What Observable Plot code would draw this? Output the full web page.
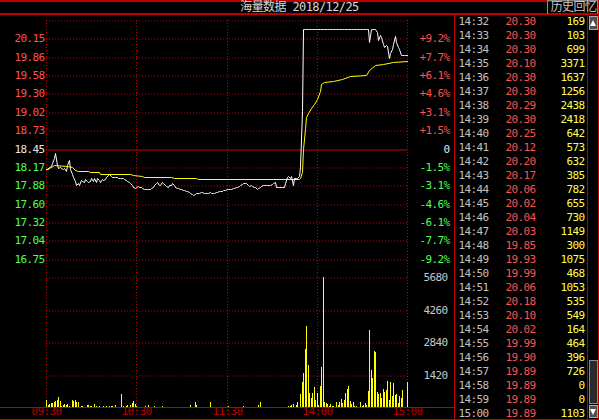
<!DOCTYPE html>
<html><head><meta charset="utf-8">
<script src="https://cdn.jsdelivr.net/npm/d3@7"></script>
<script src="https://cdn.jsdelivr.net/npm/@observablehq/plot@0.6"></script>
<style>
html,body{margin:0;padding:0;background:#000;}
#wrap{position:relative;width:599px;height:420px;background:#000;overflow:hidden;}
#wrap svg{position:absolute;}
.deco{position:absolute;box-sizing:border-box;}
</style></head><body><div id="wrap"></div>
<script>
// ---------- data ----------
const prevClose = 18.45;
const priceTicks = [20.15,19.86,19.58,19.30,19.02,18.73,18.45,18.17,17.88,17.60,17.32,17.04,16.75];
const pctLabels = ["+9.2%","+7.7%","+6.1%","+4.6%","+3.1%","+1.5%","0","-1.5%","-3.1%","-4.6%","-6.1%","-7.7%","-9.2%"];
const volTicks = [5680,4260,2840,1420];
const timeTicks = [0,60,120,180,240];
const timeLabels = ["09:30","10:30","11:30","14:00","15:00"];
const title = "海量数据 2018/12/25";
const panelTitle = "历史回忆";

// minute-by-minute price (241 minutes: 09:30-11:30, 13:01-15:00)
const price = [
18.13,18.14,18.17,18.18,18.22,18.30,18.38,18.20,18.15,18.17,
18.15,18.13,18.15,18.11,18.19,18.27,18.13,18.05,18.01,17.95,
17.88,17.91,17.89,17.96,17.95,17.93,17.98,17.95,17.93,17.95,
17.99,17.95,18.00,17.93,17.99,17.96,17.93,17.98,17.96,17.98,
18.01,18.04,18.06,18.03,18.01,18.01,18.01,18.01,18.00,18.00,
17.99,17.99,17.98,17.96,17.95,17.93,17.91,17.89,17.86,17.84,
17.85,17.87,17.86,17.86,17.84,17.82,17.82,17.82,17.82,17.82,
17.84,17.86,17.88,17.91,17.93,17.89,17.88,17.93,17.91,17.88,
17.87,17.86,17.88,17.89,17.91,17.88,17.86,17.84,17.84,17.83,
17.82,17.81,17.81,17.80,17.79,17.78,17.77,17.75,17.74,17.75,
17.76,17.76,17.77,17.78,17.78,17.77,17.76,17.76,17.77,17.78,
17.77,17.76,17.76,17.78,17.78,17.79,17.79,17.80,17.81,17.81,
17.82,17.83,17.83,17.83,17.84,17.84,17.85,17.86,17.87,17.88,
17.90,17.92,17.92,17.92,17.89,17.87,17.88,17.87,17.86,17.85,
17.83,17.84,17.86,17.87,17.88,17.88,17.89,17.89,17.89,17.89,
17.90,17.92,17.93,17.86,17.86,17.86,17.86,17.86,17.86,17.91,
18.01,18.02,18.00,18.02,17.89,17.99,17.99,17.99,18.02,18.16,
19.03,20.30,20.30,20.30,20.30,20.30,20.30,20.30,20.30,20.30,
20.30,20.30,20.30,20.30,20.30,20.30,20.30,20.30,20.30,20.30,
20.30,20.30,20.30,20.30,20.30,20.30,20.30,20.30,20.30,20.30,
20.30,20.30,20.30,20.30,20.30,20.30,20.30,20.30,20.30,20.30,
20.30,20.30,20.30,20.30,20.30,20.10,20.30,20.30,20.29,20.30,
20.25,20.12,20.20,20.17,20.06,20.02,20.04,20.03,19.85,19.93,
19.99,20.06,20.18,20.10,20.02,19.99,19.90,19.89,19.89,19.89,
19.89
];

// average price line (minute, value)
const avgMinute = [0,3,5,14,17,19,21,28,29,35,36,56,58,64,65,83,85,100,101,168,169,170,171,172,173,174,176,178,180,182,183,185,191,197,202,213,215,219,224,231,240];
const avgPrice  = [18.13,18.16,18.19,18.18,18.16,18.12,18.10,18.10,18.09,18.09,18.06,18.06,18.04,18.03,18.01,18.01,18.00,18.00,17.98,17.98,17.99,18.08,18.45,18.75,18.93,19.00,19.08,19.13,19.21,19.33,19.45,19.47,19.49,19.52,19.57,19.59,19.66,19.74,19.76,19.78,19.80];

// minute volume
const volume = [
300,70,130,160,160,200,260,290,430,270,
60,100,120,100,120,60,0,310,260,320,
230,230,0,60,60,0,0,100,90,60,
60,0,140,60,0,60,0,0,60,0,
60,0,60,60,60,0,100,0,0,0,
570,60,0,60,100,0,100,160,280,140,
60,0,0,0,0,0,60,0,80,0,
0,0,60,0,0,0,0,60,0,0,
0,0,0,0,0,0,0,0,0,0,
0,0,0,0,0,0,70,0,0,200,
100,0,0,0,0,0,0,0,0,200,
0,0,0,0,0,0,0,0,0,0,
0,60,0,0,0,0,0,0,0,0,
0,60,0,0,0,0,0,0,0,0,
0,100,200,0,0,0,0,0,0,0,
0,0,0,0,0,0,0,0,0,0,
0,60,60,100,150,0,100,200,0,570,
1100,1470,2530,3550,1830,600,380,600,890,300,
600,100,920,1735,5680,200,160,120,50,140,
30,30,0,240,100,210,340,190,300,600,
770,920,260,150,200,30,30,0,0,240,
50,100,169,103,699,3371,1637,1256,2438,2418,
642,573,632,385,782,655,730,1149,300,1075,
468,1053,535,549,164,464,396,726,0,0,
1103
];

// trade list shown on the right (14:32 - 15:00)
const tblTime = ["14:32","14:33","14:34","14:35","14:36","14:37","14:38","14:39","14:40","14:41","14:42","14:43","14:44","14:45","14:46","14:47","14:48","14:49","14:50","14:51","14:52","14:53","14:54","14:55","14:56","14:57","14:58","14:59","15:00"];
const tblStart = 212;

// ---------- drawing ----------
const wrap = document.getElementById("wrap");
const mono = "'DejaVu Sans Mono','Noto Sans CJK SC',monospace";
const baseStyle = {background:"transparent", fontFamily:mono, fontSize:"11px", letterSpacing:"-0.6px", overflow:"visible"};
const grid = {stroke:"#c00000", strokeDasharray:"1,2"};
const gridH = {stroke:"#c00000", strokeDasharray:"1,2", dy:0.5};
const RED = "#ff5050", GREEN = "#50ff50", WHITE = "#e8e8e8";
const step = 1.7/6;
const hi = prevClose + 7*step, lo = prevClose - 7*step;
const idx = d3.range(price.length);
const lvl = (d,i) => prevClose + (6-i)*step;

const pricePlot = Plot.plot({
  width:452, height:278, marginTop:20, marginBottom:1, marginLeft:46, marginRight:45,
  x:{domain:[0,240], axis:null, round:true},
  y:{domain:[lo,hi], axis:null, round:true},
  color:{type:"identity"},
  style: baseStyle,
  marks:[
    Plot.ruleY([hi, ...priceTicks.map(lvl).filter((d,i)=>i!==6)], gridH),
    Plot.ruleX([0,60,120,180,240], grid),
    Plot.ruleY([prevClose], {stroke:"#c80000", dy:0.5}),
    Plot.line(avgMinute, {x:d=>d, y:(d,i)=>avgPrice[i], stroke:"#ffff00", strokeWidth:1}),
    Plot.line(idx, {x:i=>i, y:i=>price[i], stroke:"#ffffff", strokeWidth:1}),
    Plot.text(priceTicks, {y:lvl, text:d=>d.toFixed(2), frameAnchor:"left", textAnchor:"end", dx:-2,
      fill:(d,i)=> i<6 ? RED : i>6 ? GREEN : WHITE}),
    Plot.text(pctLabels, {y:lvl, text:d=>d, frameAnchor:"right", textAnchor:"end", dx:42,
      fill:(d,i)=> i<6 ? RED : i>6 ? GREEN : WHITE})
  ]
});
pricePlot.style.left = "0px"; pricePlot.style.top = "0px";
wrap.appendChild(pricePlot);

const volPlot = Plot.plot({
  width:452, height:153, marginTop:10, marginBottom:13, marginLeft:46, marginRight:45,
  x:{domain:[0,240], axis:null, round:true},
  y:{domain:[0,5680], axis:null, round:true},
  style: baseStyle,
  marks:[
    Plot.ruleY(volTicks, gridH),
    Plot.ruleX([0,60,120,180,240], grid),
    Plot.ruleX(idx, {x:i=>i, y1:()=>0, y2:i=>volume[i], stroke:"#ffff00", strokeWidth:1.4, shapeRendering:"crispEdges"}),
    Plot.text(volTicks, {y:d=>d, text:d=>String(d), frameAnchor:"right", textAnchor:"end", dx:40, fill:"#c8c8c8"}),
    Plot.text(timeTicks, {x:d=>d, text:(d,i)=>timeLabels[i], frameAnchor:"bottom", dy:7, fill:"#b80000"})
  ]
});
volPlot.style.left = "0px"; volPlot.style.top = "267px";
wrap.appendChild(volPlot);

// decorations (frame lines, scrollbar)
function deco(x,y,w,h,css){const d=document.createElement("div");d.className="deco";
  Object.assign(d.style,{left:x+"px",top:y+"px",width:w+"px",height:h+"px"},css);wrap.appendChild(d);return d;}
const RL = {background:"#c00000"};
deco(0,0,599,2,RL);
deco(0,13,599,2,RL);
deco(0,407,455,1,RL);
deco(0,419,599,1,RL);
deco(454,14,1,406,RL);
deco(587,14,1,406,RL);
deco(598,0,1,420,RL);
deco(547,0,51,14,{border:"1px solid #8a8a8a",borderBottom:"none"});
// scrollbar
deco(589,16,9,14,{background:"#505050",border:"1px solid #a8a8a8"});
deco(590,20,0,0,{borderLeft:"3.5px solid transparent",borderRight:"3.5px solid transparent",borderBottom:"6px solid #fff"});
deco(589,360,9,44,{background:"#2a2a2a",border:"1px solid #8a8a8a"});
deco(589,405,9,13,{background:"#505050",border:"1px solid #a8a8a8"});
deco(590,409,0,0,{borderLeft:"3.5px solid transparent",borderRight:"3.5px solid transparent",borderTop:"6px solid #fff"});

// text overlay: title and trade list
const rows = tblTime.map((t,i)=>({t, p:price[tblStart+i], v:volume[tblStart+i]}));
const textPlot = Plot.plot({
  width:599, height:420, margin:0,
  x:{type:"identity", axis:null}, y:{type:"identity", axis:null},
  style: baseStyle,
  marks:[
    Plot.text([title], {x:()=>299, y:()=>7, text:d=>d, fill:"#d8d8d8", fontSize:12}),
    Plot.text([panelTitle], {x:()=>573, y:()=>7, text:d=>d, fill:"#c8c8c8", fontSize:12}),
    Plot.text(rows, {x:()=>458, y:(d,i)=>21+14*i, text:d=>d.t, textAnchor:"start", fill:"#c0c0c0"}),
    Plot.text(rows, {x:()=>505, y:(d,i)=>21+14*i, text:d=>d.p.toFixed(2), textAnchor:"start", fill:RED}),
    Plot.text(rows, {x:()=>584, y:(d,i)=>21+14*i, text:d=>String(d.v), textAnchor:"end", fill:"#ffff50"})
  ]
});
textPlot.style.left = "0px"; textPlot.style.top = "0px";
wrap.appendChild(textPlot);
</script>
</body></html>
